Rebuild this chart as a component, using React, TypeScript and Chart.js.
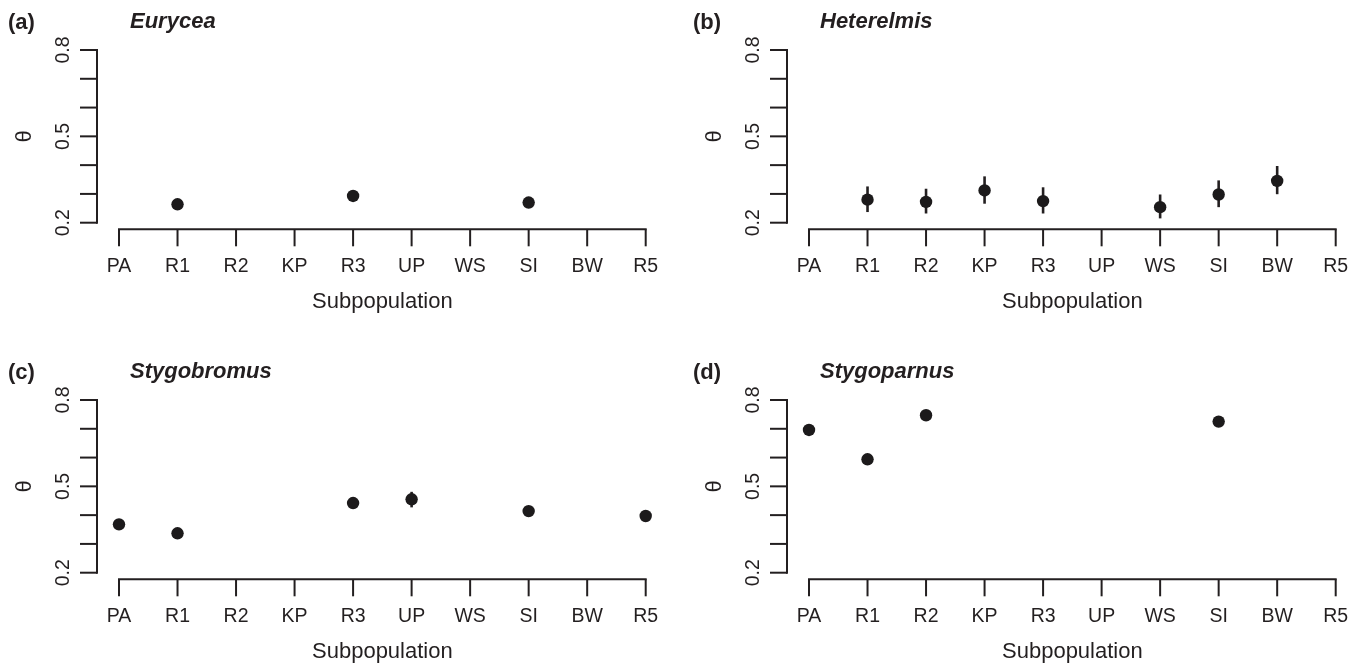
import React, { useEffect, useRef } from "react";
import { Chart, registerables } from "chart.js";

Chart.register(...registerables);

// ---------- data ----------
const categories = ["PA", "R1", "R2", "KP", "R3", "UP", "WS", "SI", "BW", "R5"];
const yTickValues = [0.2, 0.3, 0.4, 0.5, 0.6, 0.7, 0.8];
const yLabelValues = [0.2, 0.5, 0.8];
const yLabelTexts = ["0.2", "0.5", "0.8"];
const yMin = 0.2;
const yMax = 0.8;
const xTitle = "Subpopulation";
const yTitle = "θ";

const panelLetters = ["(a)", "(b)", "(c)", "(d)"];
const panelGenera = ["Eurycea", "Heterelmis", "Stygobromus", "Stygoparnus"];

// (a) Eurycea
const euryceaTheta = [null, 0.264, null, null, 0.293, null, null, 0.27, null, null];
const euryceaLow = [null, null, null, null, null, null, null, null, null, null];
const euryceaHigh = [null, null, null, null, null, null, null, null, null, null];

// (b) Heterelmis
const heterelmisTheta = [null, 0.28, 0.272, 0.312, 0.275, null, 0.254, 0.298, 0.345, null];
const heterelmisLow = [null, 0.237, 0.232, 0.266, 0.232, null, 0.215, 0.254, 0.299, null];
const heterelmisHigh = [null, 0.326, 0.318, 0.361, 0.323, null, 0.298, 0.347, 0.397, null];

// (c) Stygobromus
const stygobromusTheta = [0.368, 0.337, null, null, 0.442, 0.455, null, 0.414, null, 0.397];
const stygobromusLow = [0.355, null, null, null, null, 0.427, null, null, null, 0.387];
const stygobromusHigh = [0.382, null, null, null, null, 0.481, null, null, null, 0.408];

// (d) Stygoparnus
const stygoparnusTheta = [0.696, 0.594, 0.747, null, null, null, null, 0.725, null, null];
const stygoparnusLow = [null, null, null, null, null, null, null, null, null, null];
const stygoparnusHigh = [null, null, null, null, null, null, null, null, null, null];

const seriesTheta = [euryceaTheta, heterelmisTheta, stygobromusTheta, stygoparnusTheta];
const seriesLow = [euryceaLow, heterelmisLow, stygobromusLow, stygoparnusLow];
const seriesHigh = [euryceaHigh, heterelmisHigh, stygobromusHigh, stygoparnusHigh];

// ---------- styling ----------
const INK = "#231f20";
const FONT = "'Liberation Sans', Arial, Helvetica, sans-serif";

type PanelProps = {
  idx: number;
  left: number;
  top: number;
  width: number;
  height: number;
  letterX: number;
};

function Panel({ idx, left, top, width, height, letterX }: PanelProps) {
  const ref = useRef<HTMLCanvasElement | null>(null);

  useEffect(() => {
    const canvas = ref.current;
    if (!canvas) return;
    const theta = seriesTheta[idx];
    const low = seriesLow[idx];
    const high = seriesHigh[idx];

    const points: { x: number; y: number }[] = [];
    theta.forEach((v, i) => {
      if (v !== null) points.push({ x: i, y: v as number });
    });

    const rPlugin = {
      id: "rAxes" + idx,
      beforeDatasetsDraw(chart: any) {
        const ctx = chart.ctx;
        const xs = chart.scales.x;
        const ys = chart.scales.y;
        ctx.save();
        ctx.strokeStyle = INK;
        ctx.lineWidth = 2.6;
        ctx.lineCap = "butt";
        for (let i = 0; i < categories.length; i++) {
          const lo = low[i];
          const hi = high[i];
          if (lo === null || hi === null) continue;
          const px = xs.getPixelForValue(i);
          ctx.beginPath();
          ctx.moveTo(px, ys.getPixelForValue(lo as number));
          ctx.lineTo(px, ys.getPixelForValue(hi as number));
          ctx.stroke();
        }
        ctx.restore();
      },
      afterDraw(chart: any) {
        const ctx = chart.ctx;
        const xs = chart.scales.x;
        const ys = chart.scales.y;
        const x0 = xs.getPixelForValue(0);
        const x9 = xs.getPixelForValue(categories.length - 1);
        const yBottom = ys.getPixelForValue(yMin);
        const yTop = ys.getPixelForValue(yMax);
        const yAxisX = x0 - 22;
        const xAxisY = yBottom + 6.6;
        const tick = 17;

        ctx.save();
        ctx.strokeStyle = INK;
        ctx.fillStyle = INK;
        ctx.lineWidth = 2;
        ctx.lineCap = "square";

        // y axis
        ctx.beginPath();
        ctx.moveTo(yAxisX, yBottom);
        ctx.lineTo(yAxisX, yTop);
        ctx.stroke();
        ctx.lineCap = "butt";
        yTickValues.forEach((v) => {
          const py = ys.getPixelForValue(v);
          ctx.beginPath();
          ctx.moveTo(yAxisX, py);
          ctx.lineTo(yAxisX - tick, py);
          ctx.stroke();
        });
        ctx.font = `19.5px ${FONT}`;
        ctx.textAlign = "center";
        ctx.textBaseline = "alphabetic";
        yLabelValues.forEach((v, k) => {
          const py = ys.getPixelForValue(v);
          ctx.save();
          ctx.translate(yAxisX - 28, py);
          ctx.rotate(-Math.PI / 2);
          ctx.fillText(yLabelTexts[k], 0, 0);
          ctx.restore();
        });

        // x axis
        ctx.lineCap = "square";
        ctx.beginPath();
        ctx.moveTo(x0, xAxisY);
        ctx.lineTo(x9, xAxisY);
        ctx.stroke();
        ctx.lineCap = "butt";
        categories.forEach((c, i) => {
          const px = xs.getPixelForValue(i);
          ctx.beginPath();
          ctx.moveTo(px, xAxisY);
          ctx.lineTo(px, xAxisY + tick);
          ctx.stroke();
          ctx.fillText(c, px, xAxisY + 43);
        });

        // axis titles
        ctx.font = `22px ${FONT}`;
        ctx.fillText(xTitle, (x0 + x9) / 2, xAxisY + 79);
        ctx.save();
        ctx.translate(yAxisX - 66, ys.getPixelForValue(0.5));
        ctx.rotate(-Math.PI / 2);
        ctx.fillText(yTitle, 0, 0);
        ctx.restore();

        // panel letter and genus
        ctx.textAlign = "left";
        ctx.font = `bold 22px ${FONT}`;
        ctx.fillText(panelLetters[idx], letterX, 29);
        ctx.font = `italic bold 22px ${FONT}`;
        ctx.fillText(panelGenera[idx], 130, 28);
        ctx.restore();
      },
    };

    const chart = new Chart(canvas, {
      type: "scatter",
      data: {
        datasets: [
          {
            data: points,
            pointRadius: 6.2,
            pointHoverRadius: 6.2,
            pointBackgroundColor: "#1c1a1b",
            pointBorderWidth: 0,
            showLine: false,
            clip: false as any,
          },
        ],
      },
      options: {
        responsive: false,
        animation: false,
        devicePixelRatio: 1,
        layout: {
          padding: {
            left: 119,
            right: width - 645.7,
            top: 50,
            bottom: height - 222.7,
          },
        },
        scales: {
          x: { type: "linear", min: 0, max: categories.length - 1, display: false },
          y: { type: "linear", min: yMin, max: yMax, display: false },
        },
        plugins: {
          legend: { display: false },
          tooltip: { enabled: false },
        },
        events: [],
      },
      plugins: [rPlugin as any],
    });

    return () => {
      chart.destroy();
    };
  }, [idx, width, height, letterX]);

  return (
    <div style={{ position: "absolute", left, top, width, height }}>
      <canvas
        ref={ref}
        width={width}
        height={height}
        style={{ width: `${width}px`, height: `${height}px`, display: "block" }}
      />
    </div>
  );
}

export default function App() {
  return (
    <div
      style={{
        position: "absolute",
        left: 0,
        top: 0,
        width: 1362,
        height: 666,
        background: "#ffffff",
        overflow: "hidden",
      }}
    >
      <Panel idx={0} left={0} top={0} width={690} height={350} letterX={8} />
      <Panel idx={1} left={690} top={0} width={672} height={350} letterX={3} />
      <Panel idx={2} left={0} top={350} width={690} height={316} letterX={8} />
      <Panel idx={3} left={690} top={350} width={672} height={316} letterX={3} />
    </div>
  );
}
